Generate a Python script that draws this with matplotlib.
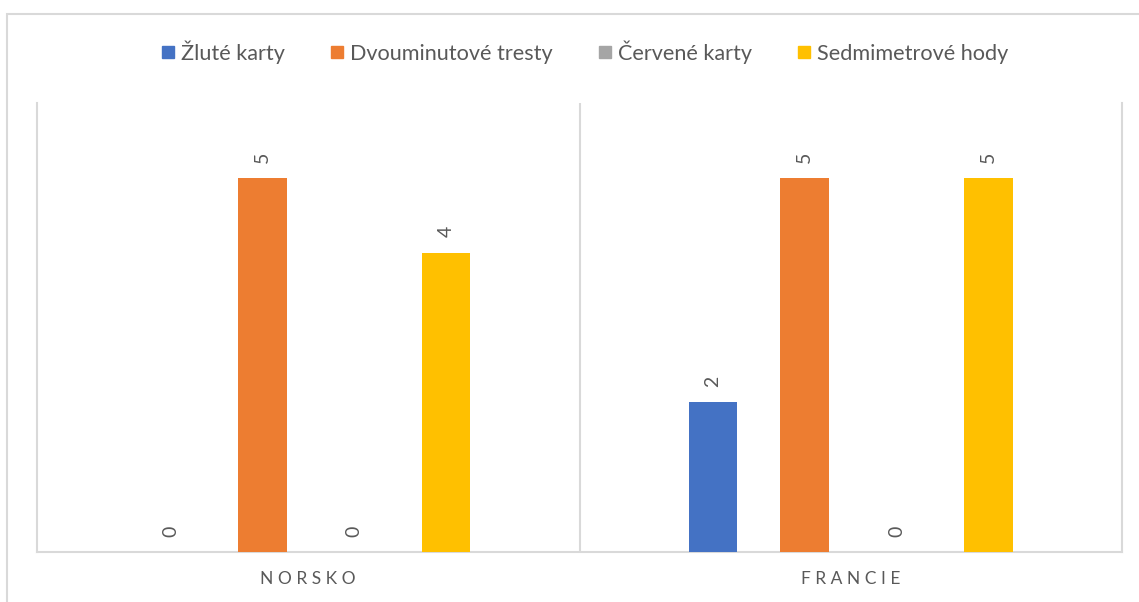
import matplotlib
matplotlib.use("Agg")
import matplotlib.pyplot as plt
import numpy as np
from matplotlib.patches import Rectangle
from matplotlib.lines import Line2D

categories = ["N O R S K O", "F R A N C I E"]
series_names = ["Žluté karty", "Dvouminutové tresty", "Červené karty", "Sedmimetrové hody"]
zlute = [0, 2]
dvouminutove = [5, 5]
cervene = [0, 0]
sedmimetrove = [4, 5]
colors = ["#4472C4", "#ED7D31", "#A5A5A5", "#FFC000"]

plt.rcParams['font.family'] = ['Lato', 'DejaVu Sans']
text_color = "#595959"
line_color = "#D9D9D9"

fig = plt.figure(figsize=(11.39, 6.02), dpi=100)
ax = fig.add_axes([37 / 1139, 50 / 602, (1122 - 37) / 1139, (552 - 103) / 602])

x = np.arange(len(categories))
width = 0.09
offsets = [-0.254, -0.085, 0.085, 0.254]
all_series = [zlute, dvouminutove, cervene, sedmimetrove]

for vals, off, col, name in zip(all_series, offsets, colors, series_names):
    bars = ax.bar(x + off, vals, width, color=col, label=name, zorder=3)
    for b, v in zip(bars, vals):
        ax.annotate(str(v), (b.get_x() + b.get_width() / 2, v),
                    xytext=(0, 15), textcoords="offset points",
                    rotation=90, ha="center", va="center",
                    fontsize=14, color=text_color)

ax.set_xlim(-0.5, 1.5)
ax.set_ylim(0, 6)
ax.set_yticks([])
ax.set_xticks(x)
ax.set_xticklabels(categories, fontsize=12.5, color=text_color)
ax.tick_params(axis="x", length=0, pad=14)

ax.spines["top"].set_visible(False)
for s in ["left", "right", "bottom"]:
    ax.spines[s].set_color(line_color)
    ax.spines[s].set_linewidth(1.5)
ax.axvline(0.5, color=line_color, lw=1.5, zorder=1)

handles = [Line2D([], [], marker="s", linestyle="none", markersize=9,
                  markerfacecolor=c, markeredgecolor=c) for c in colors]
fig.legend(handles, series_names, loc="center", bbox_to_anchor=(584 / 1139, 1 - 52 / 602),
           ncol=4, frameon=False, fontsize=15.6, labelcolor=text_color,
           handletextpad=0.2, columnspacing=2.0, handlelength=0.8)

# outer chart border
fig.add_artist(Rectangle((7 / 1139, -0.1), 1.2, 1 - 14 / 602 + 0.1,
                         transform=fig.transFigure, fill=False,
                         edgecolor=line_color, lw=1.5))

fig.savefig("out.png", dpi=100)
